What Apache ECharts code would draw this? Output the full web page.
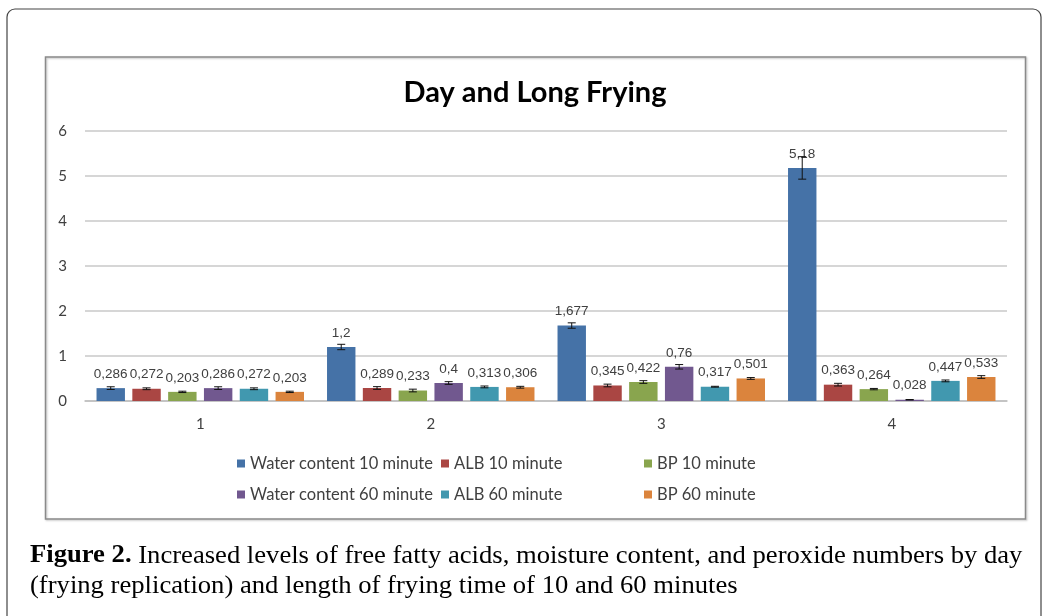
<!DOCTYPE html>
<html>
<head>
  <meta charset="utf-8">
  <title>Day and Long Frying</title>
  <script src="https://cdn.jsdelivr.net/npm/echarts@6/dist/echarts.min.js"></script>
  <style>
    html, body { margin: 0; padding: 0; background: #fff; }
    #chart { width: 1048px; height: 616px; }
  </style>
</head>
<body>
<div id="chart"></div>
<script>
  var days = ['1', '2', '3', '4'];
  var seriesNames = ['Water content 10 minute', 'ALB 10 minute', 'BP 10 minute',
                     'Water content 60 minute', 'ALB 60 minute', 'BP 60 minute'];
  var water10 = [0.286, 1.2, 1.677, 5.18];
  var alb10 = [0.272, 0.289, 0.345, 0.363];
  var bp10 = [0.203, 0.233, 0.422, 0.264];
  var water60 = [0.286, 0.4, 0.76, 0.028];
  var alb60 = [0.272, 0.313, 0.317, 0.447];
  var bp60 = [0.203, 0.306, 0.501, 0.533];
  // error bar half-lengths
  var water10Err = [0.03, 0.06, 0.06, 0.25];
  var alb10Err = [0.02, 0.03, 0.03, 0.03];
  var bp10Err = [0.015, 0.03, 0.03, 0.015];
  var water60Err = [0.03, 0.03, 0.05, 0.005];
  var alb60Err = [0.02, 0.02, 0.01, 0.02];
  var bp60Err = [0.015, 0.02, 0.02, 0.03];

  var values = [water10, alb10, bp10, water60, alb60, bp60];
  var errors = [water10Err, alb10Err, bp10Err, water60Err, alb60Err, bp60Err];
  var colors = ['#4572a7', '#aa4643', '#89a54e', '#71588f', '#4198af', '#db843d'];

  var catGap = 0.10, barGap = 0.26;

  var chart = echarts.init(document.getElementById('chart'));

  var series = [];
  values.forEach(function (vals, i) {
    series.push({
      name: seriesNames[i],
      type: 'bar',
      data: vals,
      barGap: (barGap * 100) + '%',
      barCategoryGap: (catGap * 100) + '%',
      itemStyle: { color: colors[i] },
      label: {
        show: true,
        position: 'top',
        distance: 7,
        color: '#404040',
        fontFamily: 'Liberation Sans',
        fontSize: 13.5,
        formatter: function (p) { return String(p.value).replace('.', ','); }
      },
      z: 2
    });
  });

  values.forEach(function (vals, i) {
    var errData = vals.map(function (v, k) { return [k, v - errors[i][k], v + errors[i][k]]; });
    series.push({
      type: 'custom',
      name: 'err' + i,
      data: errData,
      z: 5,
      renderItem: function (params, api) {
        var band = api.size([1, 0])[0];
        var bw = band * (1 - catGap) / (6 + 5 * barGap);
        var off = (i - 2.5) * bw * (1 + barGap);
        var lo = api.coord([api.value(0), api.value(1)]);
        var hi = api.coord([api.value(0), api.value(2)]);
        var x = lo[0] + off, cap = 4;
        var st = { stroke: '#111', lineWidth: 1 };
        return {
          type: 'group',
          children: [
            { type: 'line', shape: { x1: x, y1: lo[1], x2: x, y2: hi[1] }, style: st },
            { type: 'line', shape: { x1: x - cap, y1: lo[1], x2: x + cap, y2: lo[1] }, style: st },
            { type: 'line', shape: { x1: x - cap, y1: hi[1], x2: x + cap, y2: hi[1] }, style: st }
          ]
        };
      }
    });
  });

  // legend laid out as Excel grid: 3 columns, 2 rows
  var legendLeft = [237, 441, 644];
  var legendTop = [455, 486];
  var legends = seriesNames.map(function (n, i) {
    return {
      data: [n],
      left: legendLeft[i % 3],
      top: legendTop[Math.floor(i / 3)],
      padding: 0,
      icon: 'rect',
      itemWidth: 8,
      itemHeight: 8,
      selectedMode: false,
      textStyle: { color: '#404040', fontFamily: 'Lato', fontSize: 16.5 }
    };
  });

  chart.setOption({
    animation: false,
    title: {
      text: 'Day and Long Frying',
      left: 535,
      textAlign: 'center',
      top: 78,
      padding: 0,
      textStyle: { fontFamily: 'Lato', fontWeight: 'bold', fontSize: 29, color: '#000' }
    },
    legend: legends,
    grid: { left: 85, right: 41, top: 131, bottom: 215 },
    xAxis: {
      type: 'category',
      data: days,
      axisTick: { show: false },
      axisLine: { lineStyle: { color: '#bfbfbf', width: 1.5 } },
      axisLabel: { color: '#404040', fontFamily: 'Lato', fontSize: 15, margin: 16 }
    },
    yAxis: {
      type: 'value',
      min: 0,
      max: 6,
      interval: 1,
      axisLine: { show: false },
      axisTick: { show: false },
      splitLine: { lineStyle: { color: '#c8c8c8', width: 1.5 } },
      axisLabel: { color: '#404040', fontFamily: 'Lato', fontSize: 15, margin: 18 }
    },
    graphic: [
      {
        type: 'rect',
        shape: { x: 7, y: 9, width: 1034, height: 700, r: 8 },
        style: { fill: 'none', stroke: '#444', lineWidth: 1.2 },
        silent: true
      },
      {
        type: 'rect',
        shape: { x: 45.5, y: 57, width: 980, height: 462 },
        style: { fill: 'none', stroke: '#8a8a8a', lineWidth: 1.5,
                 shadowColor: 'rgba(0,0,0,0.25)', shadowBlur: 2, shadowOffsetX: 1, shadowOffsetY: 1 },
        silent: true
      },
      {
        type: 'text',
        left: 30,
        top: 541,
        scaleX: 1.065,
        style: {
          text: '{b|Figure 2.} Increased levels of free fatty acids, moisture content, and peroxide numbers by day\n(frying replication) and length of frying time of 10 and 60 minutes',
          fontFamily: 'Liberation Serif',
          fontSize: 25,
          lineHeight: 30,
          fill: '#000',
          rich: { b: { fontWeight: 'bold', fontFamily: 'Liberation Serif', fontSize: 25 } }
        },
        silent: true
      }
    ],
    series: series
  });
</script>
</body>
</html>
